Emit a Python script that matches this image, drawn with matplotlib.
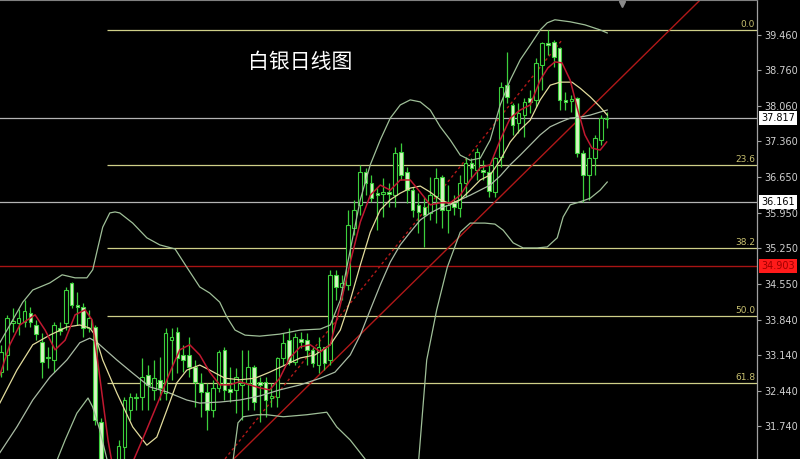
import matplotlib
matplotlib.use('Agg')
import matplotlib.pyplot as plt
import numpy as np

plt.rcParams['font.family'] = ['DejaVu Sans']

# ---------------- data ----------------
opens = [32.81, 33.15, 33.78, 33.78, 33.80, 33.98, 33.74, 33.40, 33.11, 33.05,
         33.68, 33.78, 34.57, 34.13, 34.09, 33.68, 33.70, 31.83, 29.60, 30.20,
         30.25, 31.33, 32.06, 32.30, 32.32, 32.75, 32.46, 32.66, 32.40, 33.44,
         33.60, 33.15, 33.15, 32.91, 32.60, 32.42, 32.06, 32.50, 33.25, 32.48,
         32.46, 32.56, 32.60, 32.91, 32.62, 32.62, 32.30, 32.32, 33.09, 33.44,
         33.01, 33.46, 33.44, 33.25, 32.95, 33.31, 33.05, 34.73, 34.49, 34.53,
         35.65, 36.11, 36.76, 36.54, 36.34, 36.32, 36.36, 36.30, 37.15, 36.76,
         36.40, 36.11, 36.07, 35.95, 36.28, 36.66, 36.01, 36.15, 36.05, 36.54,
         36.94, 36.80, 36.80, 36.76, 36.36, 37.05, 38.47, 38.08, 37.72, 37.88,
         38.22, 38.18, 38.87, 39.30, 39.32, 39.20, 38.18, 38.16, 38.22, 37.13,
         36.70, 37.03, 37.39, 37.80]
highs = [33.35, 33.94, 34.07, 34.06, 34.23, 34.09, 33.84, 33.58, 33.31, 33.80,
         33.80, 34.49, 34.59, 34.39, 34.17, 34.04, 33.74, 31.91, 30.60, 30.80,
         31.47, 32.32, 32.40, 32.40, 33.09, 32.95, 33.05, 33.11, 33.68, 33.68,
         33.70, 33.35, 33.50, 33.05, 32.79, 32.60, 32.66, 33.25, 33.31, 32.91,
         32.89, 33.25, 33.25, 32.95, 32.71, 32.71, 32.60, 33.11, 33.58, 33.68,
         33.58, 33.60, 33.58, 33.31, 33.50, 33.31, 34.83, 34.83, 34.73, 36.01,
         36.21, 36.90, 36.84, 36.70, 36.46, 36.64, 36.54, 37.25, 37.33, 36.86,
         36.46, 36.34, 36.26, 36.66, 36.84, 36.70, 36.50, 36.30, 36.70, 37.05,
         37.03, 37.23, 36.99, 36.90, 37.05, 38.53, 39.12, 38.12, 38.12, 38.22,
         38.38, 39.01, 39.32, 39.56, 39.36, 39.22, 38.34, 38.28, 38.24, 37.19,
         37.25, 37.49, 37.88, 37.94]
lows = [32.71, 32.85, 33.60, 33.54, 33.70, 33.70, 33.44, 32.69, 32.89, 32.81,
        33.54, 33.64, 34.07, 33.74, 33.50, 33.60, 31.77, 29.50, 28.28, 29.70,
        29.90, 30.98, 31.87, 32.06, 32.06, 32.06, 32.26, 32.26, 32.26, 32.66,
        32.79, 32.81, 32.71, 32.12, 31.93, 31.67, 31.93, 32.42, 32.26, 32.22,
        32.00, 31.87, 32.06, 32.06, 31.83, 31.93, 32.12, 32.12, 32.95, 32.95,
        32.95, 33.29, 32.95, 32.91, 32.79, 32.85, 32.95, 34.23, 34.23, 34.43,
        35.52, 35.91, 36.30, 36.17, 35.61, 35.87, 36.07, 36.07, 36.60, 36.15,
        35.87, 35.55, 35.28, 35.81, 35.75, 35.65, 35.55, 35.91, 35.87, 36.26,
        36.64, 36.60, 36.60, 36.26, 36.26, 36.86, 38.12, 37.49, 37.53, 37.45,
        37.92, 38.04, 38.37, 39.07, 38.83, 37.98, 37.98, 37.94, 37.05, 36.16,
        36.21, 36.70, 37.29, 37.63]
closes = [33.21, 33.88, 33.82, 33.88, 34.02, 33.80, 33.56, 33.01, 33.09, 33.74,
          33.62, 34.43, 34.13, 34.09, 33.68, 33.88, 31.87, 29.70, 30.20, 30.30,
          31.35, 32.26, 32.32, 32.32, 32.71, 32.56, 32.69, 32.50, 33.58, 33.50,
          33.09, 33.05, 32.91, 32.62, 32.42, 32.06, 32.50, 33.21, 32.46, 32.42,
          32.71, 32.60, 32.91, 32.22, 32.56, 32.26, 32.34, 33.09, 33.39, 33.01,
          33.50, 33.40, 33.25, 32.99, 33.31, 32.99, 34.73, 34.49, 34.57, 35.71,
          36.01, 36.76, 36.54, 36.24, 36.30, 36.36, 36.32, 37.13, 36.70, 36.40,
          36.01, 35.97, 35.91, 36.30, 36.64, 36.01, 36.11, 36.07, 36.54, 36.94,
          36.84, 37.15, 36.76, 36.38, 37.03, 38.43, 38.24, 37.69, 37.92, 38.14,
          38.14, 38.91, 39.30, 39.26, 39.03, 38.18, 38.14, 38.20, 37.13, 36.70,
          37.03, 37.43, 37.82, 37.817]

# short moving average (red)
ma_red_x = [-0.2, 1.5, 3.2, 5.8, 7.5, 9.2, 10.9, 12.6, 14.3, 15.5, 16.8, 18.2, 19.4,
            20.2, 21.9, 24.5, 27.0, 28.7, 30.4, 32.1, 33.8, 35.5, 37.2, 38.9, 40.6,
            42.3, 44.0, 45.7, 47.4, 49.1, 50.9, 52.6, 54.3, 56.0, 57.7, 59.4, 61.1,
            62.8, 64.5, 66.2, 67.9, 69.6, 71.3, 73.0, 74.7, 76.4, 78.1, 79.8, 81.5,
            83.2, 84.9, 86.6, 88.3, 90.0, 91.7, 93.0, 94.2, 95.4, 96.8, 98.1, 99.3,
            100.5, 101.9, 103.0]
ma_red_y = [32.75, 33.35, 33.74, 33.94, 33.64, 33.25, 33.44, 33.94, 34.04, 33.84, 32.71,
            31.47, 30.68, 30.60, 30.90, 31.60, 32.30, 32.80, 33.25, 33.35, 33.15,
            32.81, 32.56, 32.56, 32.62, 32.56, 32.50, 32.46, 32.69, 33.09, 33.31,
            33.35, 33.21, 33.35, 34.13, 34.98, 35.77, 36.30, 36.50, 36.40, 36.60,
            36.60, 36.36, 36.11, 36.15, 36.15, 36.30, 36.60, 36.84, 36.90, 37.39,
            37.82, 37.98, 38.08, 38.57, 38.81, 38.93, 38.91, 38.57, 37.98, 37.49,
            37.23, 37.19, 37.35]

# medium moving average (khaki)
ma_khaki_x = [-0.2, 2.7, 5.4, 8.3, 11.2, 13.4, 15.1, 16.0, 17.3, 19.7, 22.4, 24.8,
              26.5, 28.2, 29.9, 31.6, 33.8, 35.5, 38.1, 40.6, 43.2, 45.7, 48.3, 50.9,
              53.4, 56.0, 57.7, 59.4, 61.1, 62.8, 64.5, 66.2, 67.9, 69.6, 71.3, 73.0,
              74.7, 76.4, 78.1, 79.8, 81.5, 83.2, 84.9, 86.6, 88.3, 90.0, 91.7, 93.4,
              95.1, 97.1, 98.5, 100.2, 101.9, 103.1]
ma_khaki_y = [32.20, 32.85, 33.35, 33.54, 33.70, 33.74, 33.68, 33.54, 33.05, 32.40,
              31.73, 31.37, 31.53, 32.06, 32.60, 32.85, 32.95, 32.85, 32.69, 32.66,
              32.69, 32.81, 32.95, 33.09, 33.15, 33.35, 33.64, 34.23, 34.92, 35.57,
              36.01, 36.21, 36.34, 36.44, 36.48, 36.36, 36.21, 36.13, 36.21, 36.40,
              36.60, 36.70, 36.99, 37.35, 37.59, 37.78, 38.18, 38.47, 38.53, 38.53,
              38.41, 38.24, 38.04, 37.88]

# middle band (grey-green)
mid_x = [-0.2, 2.7, 5.4, 8.3, 11.2, 13.4, 15.1, 16.3, 19.7, 22.4, 25.3, 28.2, 31.6,
         33.8, 37.2, 40.6, 44.0, 47.4, 50.9, 54.3, 56.8, 59.4, 61.1, 62.8, 64.5,
         66.2, 67.9, 69.6, 71.3, 73.0, 74.7, 76.4, 78.1, 79.8, 81.5, 83.2, 84.9,
         86.6, 88.3, 90.0, 91.7, 93.4, 95.1, 96.8, 98.5, 100.2, 101.9, 103.1]
mid_y = [31.22, 31.73, 32.26, 32.71, 33.05, 33.39, 33.48, 33.40, 33.05, 32.79, 32.52,
         32.42, 32.26, 32.20, 32.22, 32.26, 32.34, 32.46, 32.56, 32.69, 32.81, 33.15,
         33.54, 34.04, 34.53, 34.98, 35.32, 35.57, 35.81, 35.95, 36.05, 36.11, 36.21,
         36.30, 36.40, 36.50, 36.68, 36.90, 37.09, 37.29, 37.49, 37.65, 37.74, 37.82,
         37.84, 37.88, 37.94, 37.98]

# upper band
up_x = [-0.2, 2.0, 3.7, 5.4, 8.3, 10.4, 12.6, 14.6, 15.6, 16.5, 17.3, 18.5, 19.4,
        20.2, 22.4, 24.8, 27.0, 29.6, 31.6, 33.8, 35.5, 37.2, 38.4, 39.8, 41.5,
        44.0, 47.4, 50.9, 54.3, 56.0, 57.7, 59.4, 61.1, 62.8, 64.5, 66.2, 67.9,
        69.6, 71.3, 73.0, 74.7, 76.4, 78.1, 79.8, 81.5, 83.2, 84.9, 86.6, 88.3,
        90.0, 91.7, 92.9, 94.2, 96.8, 99.3, 101.9, 103.1]
up_y = [33.39, 33.84, 34.19, 34.43, 34.57, 34.73, 34.67, 34.67, 34.83, 35.28, 35.67,
        35.95, 35.97, 35.95, 35.75, 35.46, 35.32, 35.24, 34.88, 34.49, 34.37, 34.19,
        33.90, 33.64, 33.54, 33.52, 33.56, 33.64, 33.66, 33.74, 34.23, 35.22, 36.21,
        36.90, 37.39, 37.82, 38.08, 38.18, 38.14, 37.98, 37.65, 37.39, 37.09, 36.99,
        37.03, 37.39, 38.08, 38.57, 38.97, 39.26, 39.56, 39.70, 39.76, 39.72, 39.66,
        39.56, 39.50]

# lower band
lo_x = [-0.2, 4.9, 9.2, 10.9, 12.9, 14.8, 15.6, 16.8, 18.0, 19.4, 21.8, 26.9, 33.8,
        38.1, 39.5, 40.3, 41.2, 43.5, 45.2, 48.0, 52.0, 55.4, 57.1, 59.4, 61.9,
        64.5, 67.9, 70.9, 72.4, 74.1, 75.9, 78.1, 79.8, 82.3, 84.0, 85.4, 87.1,
        88.8, 91.2, 92.9, 94.6, 95.6, 96.8, 98.5, 100.2, 101.9, 103.1]
lo_y = [29.89, 30.29, 30.98, 31.47, 32.00, 32.30, 32.12, 31.67, 31.10, 30.29, 29.79,
        29.60, 29.99, 30.48, 31.10, 31.81, 31.93, 31.97, 31.97, 31.93, 31.97, 32.02,
        31.73, 31.47, 31.10, 30.48, 30.29, 30.88, 33.05, 34.04, 34.88, 35.57, 35.75,
        35.75, 35.73, 35.61, 35.36, 35.26, 35.26, 35.28, 35.46, 35.87, 36.11, 36.17,
        36.24, 36.40, 36.56]

# trend lines (candle index, price)
trend_solid_x = [39.6, 118.9]
trend_solid_y = [31.10, 40.15]
trend_dot_x = [38.1, 95.4]
trend_dot_y = [31.10, 39.36]

# Fibonacci retracement
fib_start = 18
fib_levels = [39.56, 36.90, 35.25, 33.92, 32.59]
fib_labels = ['0.0', '23.6', '38.2', '50.0', '61.8']

# horizontal price lines
grey_lines = [37.817, 36.161]
red_line = 34.903

# right axis ticks
tick_vals = [39.460, 38.760, 38.060, 37.360, 36.650, 35.950, 35.250,
             34.550, 33.840, 33.140, 32.440, 31.740]

title = '白银日线图'

# ---------------- drawing ----------------
W, H = 800, 459
fig = plt.figure(figsize=(W / 100, H / 100), dpi=100, facecolor='black')
ax = fig.add_axes([0, 0, 757 / W, 1])
ax.set_facecolor('black')
x_min, x_max = -0.17, 128.57
ax.set_xlim(x_min, x_max)
ax.set_ylim(31.097, 40.150)

o = np.array(opens); h = np.array(highs); l = np.array(lows); c = np.array(closes)
idx = np.arange(len(o))
up = c >= o
green = '#3ccf3c'
pale = '#d6f5c2'

# trend lines
ax.plot(trend_solid_x, trend_solid_y, color='#b01818', lw=1.0, zorder=2)
ax.plot(trend_dot_x, trend_dot_y, color='#b01818', lw=1.0, ls=(0, (2, 2)), zorder=2)

# horizontal lines
for v in grey_lines:
    ax.axhline(v, color='#b4b4b4', lw=0.9, zorder=1)
ax.axhline(red_line, color='#a81414', lw=1.0, zorder=1)
ax.hlines(fib_levels, fib_start, x_max, color='#cfcf88', lw=0.9, zorder=1)
for v, t in zip(fib_levels, fib_labels):
    ax.text(x_max - 0.3, v + 0.02, t, ha='right', va='bottom', color='#c8c070',
            fontsize=6.5, zorder=6)

# candles
ax.vlines(idx, l, h, color=green, lw=0.9, zorder=3)
ax.bar(idx, np.abs(c - o), bottom=np.minimum(o, c), width=0.62,
       color=np.where(up, 'black', pale), edgecolor=green, linewidth=0.8, zorder=4)

# indicator lines
ax.plot(up_x, up_y, color='#9fbf98', lw=0.9, zorder=5)
ax.plot(lo_x, lo_y, color='#9fbf98', lw=0.9, zorder=5)
ax.plot(mid_x, mid_y, color='#a9bba4', lw=0.9, zorder=5)
ax.plot(ma_khaki_x, ma_khaki_y, color='#e2dc9c', lw=0.9, zorder=5)
ax.plot(ma_red_x, ma_red_y, color='#c01830', lw=1.1, zorder=5)

# axes styling
ax.set_xticks([])
ax.yaxis.tick_right()
ax.set_yticks(tick_vals)
ax.set_yticklabels([f'{v:.3f}' for v in tick_vals])
ax.tick_params(axis='y', which='both', length=3, width=0.8, color='#a0a0a0',
               labelcolor='#d0d0d0', labelsize=7, pad=2)
for s in ['left', 'bottom']:
    ax.spines[s].set_visible(False)
ax.spines['right'].set_color('#a0a0a0')
ax.spines['top'].set_color('#808080')
ax.spines['right'].set_linewidth(0.9)
ax.spines['top'].set_linewidth(0.8)

# highlighted price labels
for v in grey_lines:
    ax.annotate(f'{v:.3f}', xy=(1, v), xycoords=('axes fraction', 'data'),
                xytext=(3, 0), textcoords='offset points', ha='left', va='center',
                fontsize=7, color='black', annotation_clip=False, zorder=10,
                bbox=dict(boxstyle='square,pad=0.2', fc='white', ec='none'))
ax.annotate(f'{red_line:.3f}', xy=(1, red_line), xycoords=('axes fraction', 'data'),
            xytext=(3, 0), textcoords='offset points', ha='left', va='center',
            fontsize=7, color='#a00000', annotation_clip=False, zorder=10,
            bbox=dict(boxstyle='square,pad=0.2', fc='#ff1a1a', ec='none'))

# title
ax.text(0.396, 0.865, title, transform=ax.transAxes, ha='center', va='center',
        fontsize=15, color='white', family=['Noto Sans CJK SC', 'DejaVu Sans'], zorder=10)

# small marker at the top
ax.plot([0.822], [0.992], marker='v', color='#8a8a8a', markersize=5,
        transform=ax.transAxes, clip_on=False, zorder=10)

fig.savefig('out.png', dpi=100, facecolor='black')
